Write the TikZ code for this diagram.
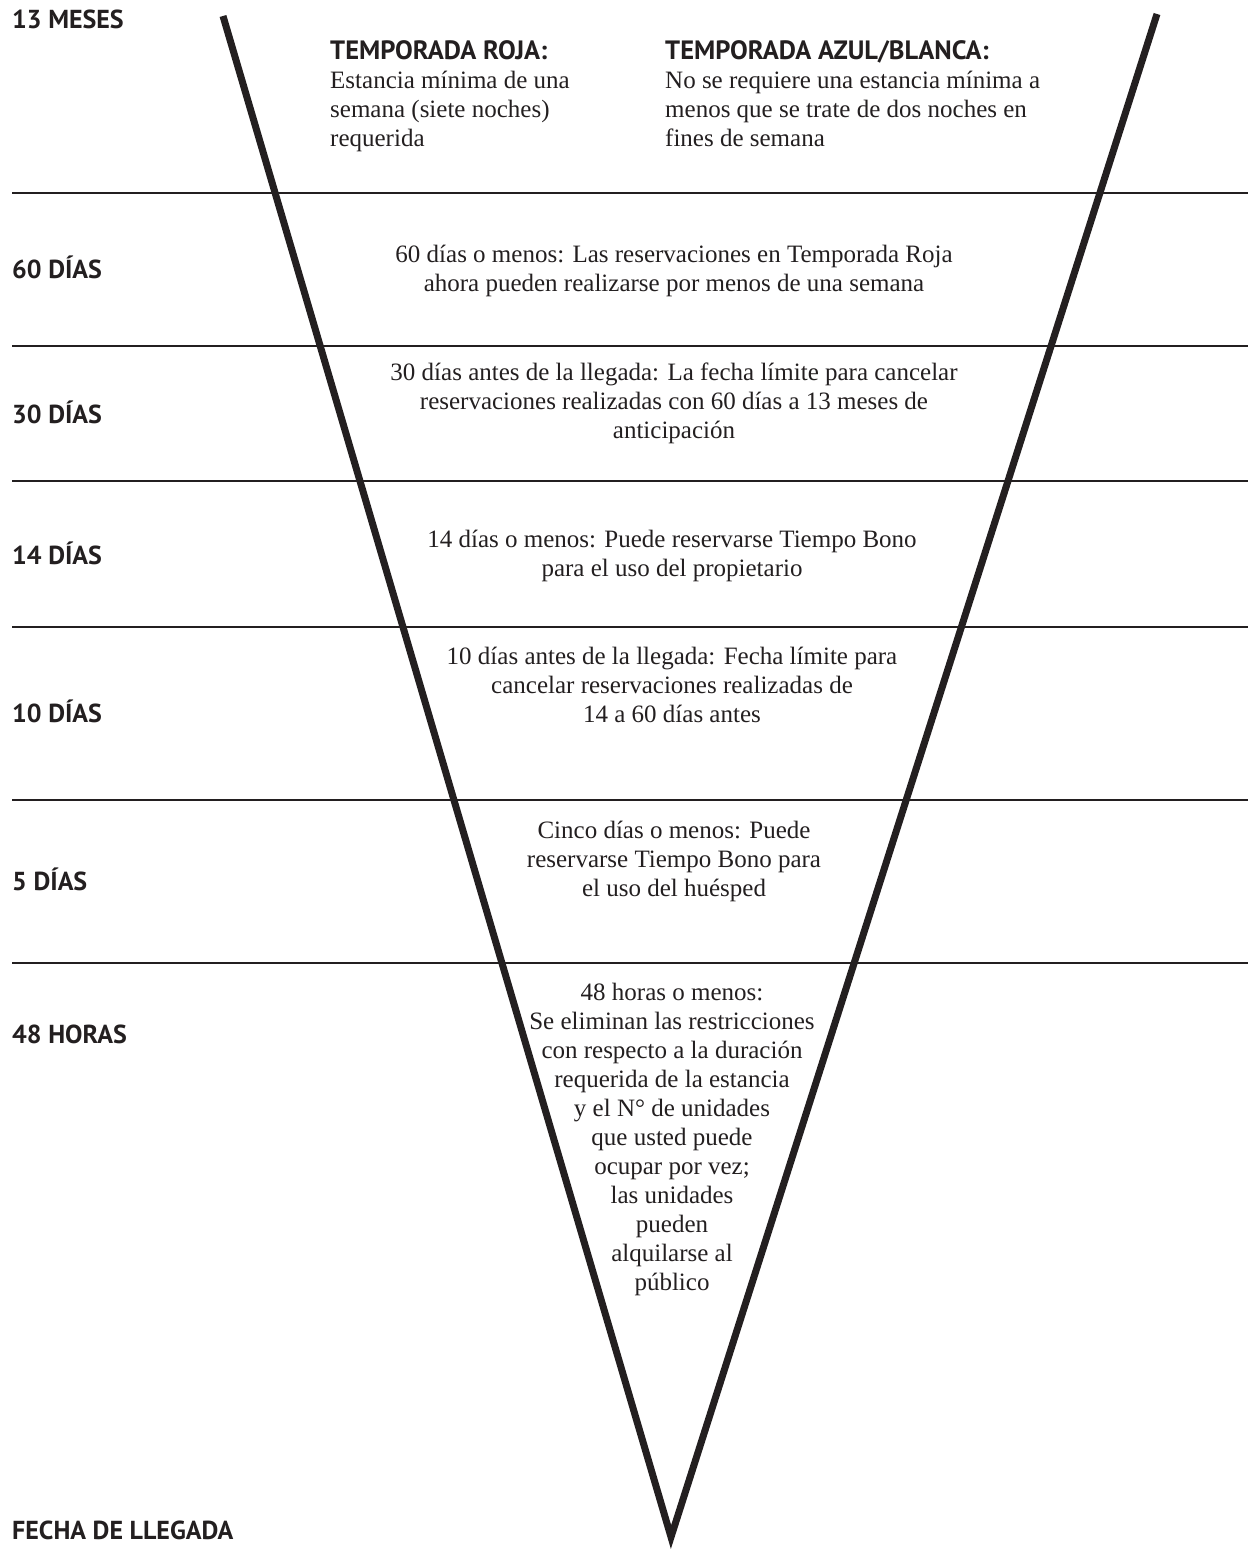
\documentclass[tikz,border=0pt]{standalone}
\usepackage{fontspec}
\setmainfont{Liberation Serif}
\setsansfont{PT Sans}
\usetikzlibrary{positioning}
\definecolor{ink}{HTML}{231F20}

\begin{document}
\begin{tikzpicture}[x=1pt, y=-1pt,
  tag/.style={anchor=base west, inner sep=0pt, text=ink,
              font=\sffamily\bfseries\fontsize{26}{29}\selectfont},
  head/.style={anchor=north west, inner sep=0pt, align=left, text=ink,
               font=\fontsize{25}{29}\selectfont},
  note/.style={inner sep=0pt, align=center, text=ink, font=\fontsize{25}{29}\selectfont},
  rule/.style={draw=ink, line width=2.3pt},
  arm/.style={draw=ink, line width=7pt, line join=miter}]
  \useasboundingbox (0,0) rectangle (1248,1549);
  \node[tag] (m13) at (12,29) {13 MESES};
  \node[tag] (d60) at (12,278) {60 DÍAS};
  \node[tag] (d30) at (12,423) {30 DÍAS};
  \node[tag] (d14) at (12,564) {14 DÍAS};
  \node[tag] (d10) at (12,722) {10 DÍAS};
  \node[tag] (d5) at (12,890) {5 DÍAS};
  \node[tag] (h48) at (12,1043) {48 HORAS};
  \node[tag] (arr) at (12,1539) {FECHA DE LLEGADA};
  % seasons
  \node[head] (roja) at (330,40) {{\sffamily\bfseries\fontsize{26.5}{29}\selectfont TEMPORADA ROJA:}\\Estancia mínima de una\\semana (siete noches)\\requerida};
  \node[head] (azul) at (665,40) {{\sffamily\bfseries\fontsize{26.5}{29}\selectfont TEMPORADA AZUL/BLANCA:}\\No se requiere una estancia mínima a\\menos que se trate de dos noches en\\fines de semana};
  % notes
  \node[note] (n60) at (674,271) {60 días o menos: Las reservaciones en Temporada Roja\\ahora pueden realizarse por menos de una semana};
  \node[note] (n30) at (674,403) {30 días antes de la llegada: La fecha límite para cancelar\\reservaciones realizadas con 60 días a 13 meses de\\anticipación};
  \node[note] (n14) at (672,556) {14 días o menos: Puede reservarse Tiempo Bono\\para el uso del propietario};
  \node[note] (n10) at (672,685) {10 días antes de la llegada: Fecha límite para\\cancelar reservaciones realizadas de\\14 a 60 días antes};
  \node[note] (n5) at (674,861) {Cinco días o menos: Puede\\reservarse Tiempo Bono para\\el uso del huésped};
  \node[note] (n48) at (672,1139) {48 horas o menos:\\Se eliminan las restricciones\\con respecto a la duración\\requerida de la estancia\\y el N° de unidades\\que usted puede\\ocupar por vez;\\las unidades\\pueden\\alquilarse al\\público};
  % bands
  \foreach \y in {193,346,481,627,800,963}
    \draw[rule] (12,\y) -- (1248,\y);
  % the V
  \coordinate (tl) at (223,16);
  \coordinate (tip) at (671,1537);
  \coordinate (tr) at (1157,14);
  \draw[arm] (tl) -- (tip) -- (tr);
\end{tikzpicture}
\end{document}
